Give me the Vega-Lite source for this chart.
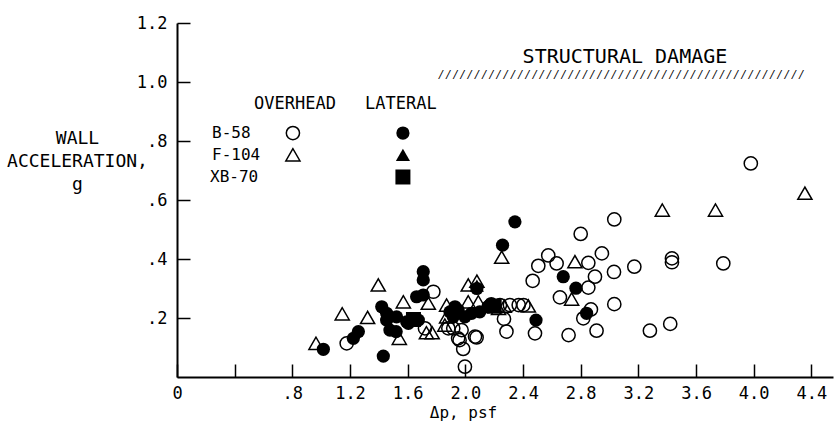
{
  "$schema": "https://vega.github.io/schema/vega-lite/v6.json",
  "width": 656,
  "height": 354,
  "autosize": "none",
  "padding": {"left": 177, "top": 23, "right": 4, "bottom": 50},
  "background": "white",
  "config": {
    "view": {"stroke": null},
    "font": "DejaVu Sans Mono",
    "axis": {"grid": false, "domainColor": "black", "tickColor": "black", "labelColor": "black", "titleColor": "black", "titleFontWeight": "normal", "labelFontSize": 17, "titleFontSize": 18, "domainWidth": 2, "tickWidth": 1.5, "tickSize": -13, "labelFlush": false}
  },
  "datasets": {
    "open": [
      {"x": 3.98, "y": 0.724, "aircraft": "B-58"},
      {"x": 3.033, "y": 0.534, "aircraft": "B-58"},
      {"x": 2.8, "y": 0.485, "aircraft": "B-58"},
      {"x": 2.947, "y": 0.419, "aircraft": "B-58"},
      {"x": 2.853, "y": 0.387, "aircraft": "B-58"},
      {"x": 3.031, "y": 0.356, "aircraft": "B-58"},
      {"x": 3.172, "y": 0.374, "aircraft": "B-58"},
      {"x": 3.433, "y": 0.402, "aircraft": "B-58"},
      {"x": 3.433, "y": 0.389, "aircraft": "B-58"},
      {"x": 3.789, "y": 0.385, "aircraft": "B-58"},
      {"x": 2.899, "y": 0.34, "aircraft": "B-58"},
      {"x": 2.853, "y": 0.303, "aircraft": "B-58"},
      {"x": 3.033, "y": 0.247, "aircraft": "B-58"},
      {"x": 2.871, "y": 0.229, "aircraft": "B-58"},
      {"x": 2.818, "y": 0.199, "aircraft": "B-58"},
      {"x": 2.91, "y": 0.157, "aircraft": "B-58"},
      {"x": 3.28, "y": 0.157, "aircraft": "B-58"},
      {"x": 3.421, "y": 0.18, "aircraft": "B-58"},
      {"x": 2.575, "y": 0.412, "aircraft": "B-58"},
      {"x": 2.506, "y": 0.377, "aircraft": "B-58"},
      {"x": 2.633, "y": 0.385, "aircraft": "B-58"},
      {"x": 2.467, "y": 0.326, "aircraft": "B-58"},
      {"x": 2.656, "y": 0.27, "aircraft": "B-58"},
      {"x": 2.716, "y": 0.142, "aircraft": "B-58"},
      {"x": 2.483, "y": 0.148, "aircraft": "B-58"},
      {"x": 2.403, "y": 0.244, "aircraft": "B-58"},
      {"x": 2.309, "y": 0.244, "aircraft": "B-58"},
      {"x": 2.24, "y": 0.244, "aircraft": "B-58"},
      {"x": 2.268, "y": 0.197, "aircraft": "B-58"},
      {"x": 2.285, "y": 0.154, "aircraft": "B-58"},
      {"x": 2.078, "y": 0.134, "aircraft": "B-58"},
      {"x": 1.997, "y": 0.035, "aircraft": "B-58"},
      {"x": 1.177, "y": 0.114, "aircraft": "B-58"},
      {"x": 1.778, "y": 0.289, "aircraft": "B-58"},
      {"x": 1.72, "y": 0.165, "aircraft": "B-58"},
      {"x": 1.882, "y": 0.165, "aircraft": "B-58"},
      {"x": 1.916, "y": 0.165, "aircraft": "B-58"},
      {"x": 1.95, "y": 0.131, "aircraft": "B-58"},
      {"x": 1.974, "y": 0.159, "aircraft": "B-58"},
      {"x": 1.96, "y": 0.125, "aircraft": "B-58"},
      {"x": 1.985, "y": 0.095, "aircraft": "B-58"},
      {"x": 2.067, "y": 0.137, "aircraft": "B-58"},
      {"x": 2.37, "y": 0.244, "aircraft": "B-58"},
      {"x": 4.355, "y": 0.623, "aircraft": "F-104"},
      {"x": 3.735, "y": 0.566, "aircraft": "F-104"},
      {"x": 3.366, "y": 0.566, "aircraft": "F-104"},
      {"x": 2.252, "y": 0.406, "aircraft": "F-104"},
      {"x": 2.76, "y": 0.391, "aircraft": "F-104"},
      {"x": 2.737, "y": 0.264, "aircraft": "F-104"},
      {"x": 2.437, "y": 0.241, "aircraft": "F-104"},
      {"x": 2.02, "y": 0.312, "aircraft": "F-104"},
      {"x": 2.08, "y": 0.325, "aircraft": "F-104"},
      {"x": 0.964, "y": 0.114, "aircraft": "F-104"},
      {"x": 1.146, "y": 0.214, "aircraft": "F-104"},
      {"x": 1.322, "y": 0.202, "aircraft": "F-104"},
      {"x": 1.396, "y": 0.312, "aircraft": "F-104"},
      {"x": 1.57, "y": 0.255, "aircraft": "F-104"},
      {"x": 1.542, "y": 0.131, "aircraft": "F-104"},
      {"x": 1.743, "y": 0.25, "aircraft": "F-104"},
      {"x": 1.73, "y": 0.15, "aircraft": "F-104"},
      {"x": 1.77, "y": 0.15, "aircraft": "F-104"},
      {"x": 1.87, "y": 0.244, "aircraft": "F-104"},
      {"x": 1.87, "y": 0.204, "aircraft": "F-104"},
      {"x": 1.858, "y": 0.176, "aircraft": "F-104"},
      {"x": 2.02, "y": 0.255, "aircraft": "F-104"},
      {"x": 2.09, "y": 0.255, "aircraft": "F-104"},
      {"x": 2.23, "y": 0.233, "aircraft": "F-104"},
      {"x": 2.27, "y": 0.24, "aircraft": "F-104"}
    ],
    "filled": [
      {"x": 2.344, "y": 0.526, "aircraft": "B-58"},
      {"x": 2.258, "y": 0.447, "aircraft": "B-58"},
      {"x": 2.679, "y": 0.34, "aircraft": "B-58"},
      {"x": 2.767, "y": 0.301, "aircraft": "B-58"},
      {"x": 2.841, "y": 0.216, "aircraft": "B-58"},
      {"x": 2.49, "y": 0.193, "aircraft": "B-58"},
      {"x": 2.17, "y": 0.244, "aircraft": "B-58"},
      {"x": 2.1, "y": 0.221, "aircraft": "B-58"},
      {"x": 2.08, "y": 0.3, "aircraft": "B-58"},
      {"x": 1.015, "y": 0.094, "aircraft": "B-58"},
      {"x": 1.223, "y": 0.131, "aircraft": "B-58"},
      {"x": 1.258, "y": 0.154, "aircraft": "B-58"},
      {"x": 1.431, "y": 0.071, "aircraft": "B-58"},
      {"x": 1.42, "y": 0.238, "aircraft": "B-58"},
      {"x": 1.454, "y": 0.193, "aircraft": "B-58"},
      {"x": 1.477, "y": 0.159, "aircraft": "B-58"},
      {"x": 1.523, "y": 0.204, "aircraft": "B-58"},
      {"x": 1.593, "y": 0.187, "aircraft": "B-58"},
      {"x": 1.454, "y": 0.216, "aircraft": "B-58"},
      {"x": 1.52, "y": 0.154, "aircraft": "B-58"},
      {"x": 1.708, "y": 0.357, "aircraft": "B-58"},
      {"x": 1.708, "y": 0.329, "aircraft": "B-58"},
      {"x": 1.662, "y": 0.272, "aircraft": "B-58"},
      {"x": 1.708, "y": 0.278, "aircraft": "B-58"},
      {"x": 1.605, "y": 0.182, "aircraft": "B-58"},
      {"x": 1.893, "y": 0.221, "aircraft": "B-58"},
      {"x": 1.928, "y": 0.238, "aircraft": "B-58"},
      {"x": 1.916, "y": 0.204, "aircraft": "B-58"},
      {"x": 1.95, "y": 0.227, "aircraft": "B-58"},
      {"x": 1.997, "y": 0.204, "aircraft": "B-58"},
      {"x": 2.043, "y": 0.216, "aircraft": "B-58"},
      {"x": 2.157, "y": 0.238, "aircraft": "B-58"},
      {"x": 2.18, "y": 0.249, "aircraft": "B-58"},
      {"x": 1.674, "y": 0.193, "aircraft": "B-58"},
      {"x": 2.08, "y": 0.31, "aircraft": "F-104"},
      {"x": 1.64, "y": 0.195, "aircraft": "XB-70"},
      {"x": 2.2, "y": 0.24, "aircraft": "XB-70"}
    ],
    "legendOpen": [
      {"x": 0.804, "y": 0.827, "aircraft": "B-58"},
      {"x": 0.804, "y": 0.753, "aircraft": "F-104"}
    ],
    "legendFilled": [
      {"x": 1.567, "y": 0.827, "aircraft": "B-58"},
      {"x": 1.567, "y": 0.753, "aircraft": "F-104"},
      {"x": 1.567, "y": 0.678, "aircraft": "XB-70"}
    ],
    "headers": [
      {"x": 0.818, "y": 0.925, "text": "OVERHEAD"},
      {"x": 1.553, "y": 0.925, "text": "LATERAL"}
    ],
    "rowLabels": [
      {"x": 0.243, "y": 0.827, "text": "B-58"},
      {"x": 0.243, "y": 0.753, "text": "F-104"},
      {"x": 0.229, "y": 0.678, "text": "XB-70"}
    ],
    "title": [
      {"x": 3.107, "y": 1.085, "text": "STRUCTURAL DAMAGE"}
    ],
    "hatch": [
      {"x": 3.079, "y": 1.024, "text": "/ / / / / / / / / / / / / / / / / / / / / / / / / / / / / / / / / / / / / / / / / / / / / / / / / / /"}
    ]
  },
  "layer": [
    {
      "data": {"name": "open"},
      "mark": {"type": "point", "filled": false, "stroke": "black", "strokeWidth": 1.5, "opacity": 1},
      "encoding": {
        "x": {"field": "x", "type": "quantitative", "scale": {"domain": [0, 4.55], "nice": false, "zero": false},
          "axis": {"title": "Δp, psf", "titleFontSize": 16, "values": [0, 0.4, 0.8, 1.2, 1.6, 2.0, 2.4, 2.8, 3.2, 3.6, 4.0, 4.4],
            "labelExpr": "datum.value == 0 ? '0' : (datum.value < 0.5 ? '' : (datum.value < 1 ? '.' + format(datum.value * 10, 'd') : format(datum.value, '.1f')))",
            "labelPadding": 21, "titleX": 286, "titleY": 35, "titleBaseline": "middle", "titleAnchor": "start", "titleAlign": "center"}},
        "y": {"field": "y", "type": "quantitative", "scale": {"domain": [0, 1.2], "nice": false, "zero": false},
          "axis": {"title": ["WALL", "ACCELERATION,", "g"], "values": [0.2, 0.4, 0.6, 0.8, 1.0, 1.2],
            "labelExpr": "datum.value < 1 ? '.' + format(datum.value * 10, 'd') : format(datum.value, '.1f')",
            "labelPadding": 23, "titleAngle": 0, "titleX": -100, "titleY": 106, "titleAlign": "center", "titleBaseline": "top", "titleLineHeight": 23, "titleAnchor": "start"}},
        "shape": {"field": "aircraft", "type": "nominal", "scale": {"domain": ["B-58", "F-104", "XB-70"], "range": ["circle", "triangle-up", "square"]}, "legend": null},
        "size": {"field": "aircraft", "type": "nominal", "scale": {"domain": ["B-58", "F-104", "XB-70"], "range": [175, 225, 160]}, "legend": null}
      }
    },
    {
      "data": {"name": "filled"},
      "mark": {"type": "point", "filled": true, "fill": "black", "opacity": 1},
      "encoding": {
        "x": {"field": "x", "type": "quantitative"},
        "y": {"field": "y", "type": "quantitative"},
        "shape": {"field": "aircraft", "type": "nominal", "legend": null},
        "size": {"field": "aircraft", "type": "nominal", "legend": null}
      }
    },
    {
      "data": {"name": "legendOpen"},
      "mark": {"type": "point", "filled": false, "stroke": "black", "strokeWidth": 1.5, "opacity": 1},
      "encoding": {
        "x": {"field": "x", "type": "quantitative"},
        "y": {"field": "y", "type": "quantitative"},
        "shape": {"field": "aircraft", "type": "nominal", "legend": null},
        "size": {"field": "aircraft", "type": "nominal", "legend": null}
      }
    },
    {
      "data": {"name": "legendFilled"},
      "mark": {"type": "point", "filled": true, "fill": "black", "opacity": 1},
      "encoding": {
        "x": {"field": "x", "type": "quantitative"},
        "y": {"field": "y", "type": "quantitative"},
        "shape": {"field": "aircraft", "type": "nominal", "legend": null},
        "size": {"field": "aircraft", "type": "nominal", "legend": null}
      }
    },
    {
      "data": {"name": "headers"},
      "mark": {"type": "text", "fontSize": 17, "color": "black", "baseline": "middle", "align": "center"},
      "encoding": {
        "x": {"field": "x", "type": "quantitative"},
        "y": {"field": "y", "type": "quantitative"},
        "text": {"field": "text"}
      }
    },
    {
      "data": {"name": "rowLabels"},
      "mark": {"type": "text", "fontSize": 16, "color": "black", "baseline": "middle", "align": "left"},
      "encoding": {
        "x": {"field": "x", "type": "quantitative"},
        "y": {"field": "y", "type": "quantitative"},
        "text": {"field": "text"}
      }
    },
    {
      "data": {"name": "title"},
      "mark": {"type": "text", "fontSize": 20, "color": "black", "baseline": "middle", "align": "center"},
      "encoding": {
        "x": {"field": "x", "type": "quantitative"},
        "y": {"field": "y", "type": "quantitative"},
        "text": {"field": "text"}
      }
    },
    {
      "data": {"name": "hatch"},
      "mark": {"type": "text", "font": "DejaVu Sans", "fontSize": 11, "fontStyle": "italic", "color": "black", "baseline": "middle", "align": "center"},
      "encoding": {
        "x": {"field": "x", "type": "quantitative"},
        "y": {"field": "y", "type": "quantitative"},
        "text": {"field": "text"}
      }
    }
  ]
}
